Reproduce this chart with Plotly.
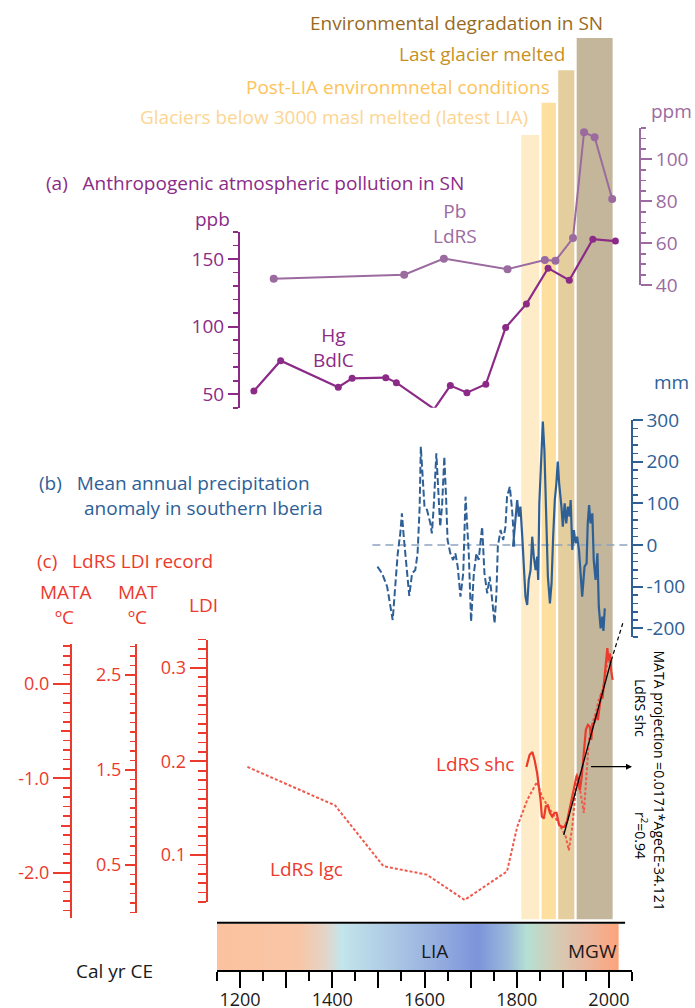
import plotly.graph_objects as go

W, H = 695, 1008
FONT = "Open Sans"

# ---------------- data ----------------
# (a) Hg in BdlC (ppb)
hg_year = [1230, 1288, 1413, 1443, 1516, 1539, 1621, 1656, 1692, 1733, 1776, 1821, 1868, 1914, 1965, 2014]
hg_ppb = [52.4, 74.8, 55.2, 61.8, 62.3, 58.6, 39.1, 56.4, 51.2, 57.4, 99.3, 116.8, 143.2, 134.3, 164.6, 163.2]

# (a) Pb in LdRS (ppm)
pb_year = [1273, 1556, 1642, 1780, 1861, 1884, 1922, 1946, 1969, 2007]
pb_ppm = [43.1, 45.0, 52.7, 47.7, 52.0, 51.7, 62.5, 112.9, 110.5, 81.1]

# (b) precipitation anomaly (mm) - older dashed part
pr_old_year = [1498, 1508, 1519, 1531, 1537, 1542, 1547.5, 1551, 1555, 1558, 1562, 1567, 1573,
               1580, 1585, 1589.5, 1592, 1597, 1600, 1605.5, 1612.7, 1616, 1620, 1625.7, 1628.5,
               1634, 1638, 1643, 1647, 1650, 1656, 1662, 1667, 1672, 1678, 1684, 1689, 1692,
               1696, 1701, 1707, 1712.6, 1717.5, 1725, 1730, 1736, 1741.5, 1752, 1756, 1759,
               1765, 1770.6, 1775.6, 1779, 1785, 1790, 1795]
pr_old_mm = [-52, -68, -100, -180, -92, -20, 28, 76, 20, -12, -68, -122, -68,
             -60, -20, 92, 236, 156, 92, 84, 52, 28, 92, 220, 164,
             44, 92, 212, 108, 12, -20, -36, -20, -52, -124, -68, 116, 60,
             -20, -184, -68, -20, -36, 44, -68, -116, -76, -188, -116, -4,
             36, 12, 44, 116, 140, 84, -4]
# (b) precipitation anomaly (mm) - recent solid part
pr_new_year = [1792, 1797, 1801, 1804.5, 1808, 1812, 1815, 1819, 1822.7, 1826, 1830, 1833.6,
               1837, 1841, 1844.4, 1846.6, 1849, 1853, 1856.6, 1860, 1864, 1867.6, 1872,
               1875.5, 1879, 1882.6, 1886, 1889, 1892, 1895, 1897, 1900, 1904, 1907.4, 1911,
               1914.6, 1917, 1920.5, 1924, 1927.6, 1931, 1935, 1938.5, 1942, 1947, 1951.5,
               1954, 1957, 1960, 1964, 1967, 1971, 1975, 1978, 1982, 1985.6, 1988, 1991]
pr_new_mm = [-4, 52, 108, 68, 92, 20, -36, -124, -144, -84, -60, 20,
             -28, -60, -28, -84, 100, 212, 296, 228, 44, -76, -140,
             -92, 20, 108, 148, 200, 148, 116, 92, 44, 100, 52, 92,
             68, 108, -12, 36, 4, 20, -12, -84, -124, -52, -44,
             52, 96, 52, 76, -36, -84, -20, -148, -200, -172, -206, -152]
zero_span = [1487, 2041]

# (c) LdRS LDI, long gravity core (dotted)
lgc_year = [1216, 1406, 1511, 1605, 1687, 1779, 1801, 1823, 1844, 1855, 1873, 1891, 1906,
            1913, 1920.5, 1927.6, 1931, 1938.5, 1945.6, 1951.5, 1956.5, 1964, 1971, 1978,
            1986, 1991, 1995, 2000, 2004]
lgc_ldi = [0.194, 0.153, 0.088, 0.079, 0.052, 0.0825, 0.130, 0.159, 0.178, 0.162, 0.148, 0.134, 0.120,
           0.105, 0.130, 0.166, 0.187, 0.166, 0.145, 0.187, 0.223, 0.241, 0.251, 0.266,
           0.276, 0.287, 0.301, 0.312, 0.301]
# (c) LdRS LDI, short core (solid)
shc_year = [1821, 1828, 1834, 1839, 1844.4, 1848.8, 1851.6, 1854.5, 1858.8, 1863, 1867.5, 1872,
            1877, 1882, 1886.4, 1889, 1892, 1898.7, 1903.7, 1909.6, 1915, 1920.5, 1925.5, 1930,
            1933.5, 1937, 1941, 1945.6, 1950, 1954.5, 1958.6, 1961.7, 1964.5, 1969, 1973, 1976,
            1980.5, 1983.5, 1986, 1989, 1992.8, 1996.5, 1999, 2002, 2005, 2008]
shc_ldi = [0.194, 0.207, 0.210, 0.201, 0.187, 0.173, 0.159, 0.141, 0.139, 0.152, 0.153, 0.145,
           0.141, 0.145, 0.145, 0.139, 0.132, 0.130, 0.130, 0.137, 0.150, 0.162, 0.177, 0.185,
           0.180, 0.169, 0.184, 0.212, 0.234, 0.239, 0.237, 0.223, 0.239, 0.242, 0.251, 0.244,
           0.262, 0.273, 0.267, 0.283, 0.298, 0.321, 0.308, 0.315, 0.296, 0.287]
# MATA projection (regression) line, degC
reg_year = [1902, 2005]
reg_mata = [-1.60, 0.25]
reg_ext_year = [2005, 2031]
reg_ext_mata = [0.25, 0.66]

# event bands (start, end, top px, colour)
bands = [(1810, 1849, 135, "#FEEBC8"),
         (1854, 1885, 102.7, "#FDDF9F"),
         (1890, 1925, 70.3, "#E5CE9E"),
         (1930, 2008, 38, "#C3B69A")]
band_labels = ["Glaciers below 3000 masl melted (latest LIA)",
               "Post-LIA environmnetal conditions",
               "Last glacier melted",
               "Environmental degradation in SN"]

# climate period strip (year, colour)
strip_stops = [(1150, "#FCC29F"), (1330, "#F8C6A7"), (1385, "#E4D4C8"), (1420, "#C3E5EB"),
               (1520, "#AECBE5"), (1620, "#97B0E0"), (1716, "#7C94DA"), (1780, "#9BB9DA"),
               (1822, "#B4E0D3"), (1880, "#D3CDB7"), (1950, "#E9B89F"), (2021, "#FDA47B")]

x_major = [1200, 1300, 1400, 1500, 1600, 1700, 1800, 1900, 2000]
x_labels = ["1200", "", "1400", "", "1600", "", "1800", "", "2000"]
x_minor = [1150, 1250, 1350, 1450, 1550, 1650, 1750, 1850, 1950, 2050]

HG = "#8B2B87"
PB = "#9B6B9F"
BLUE = "#2E6096"
RED = "#EC3A2D"
DARK = "#1A1A1A"


def px(p):
    return p / W


def py(p):
    return 1 - p / H


fig = go.Figure()

# gradient strip
s0, s1 = strip_stops[0][0], strip_stops[-1][0]
cscale = [[(yr - s0) / (s1 - s0), c] for yr, c in strip_stops]
fig.add_trace(go.Scatter(x=[s0, s1, s1, s0, s0], y=[0, 0, 1, 1, 0], mode="lines",
                         line=dict(width=0, color="rgba(0,0,0,0)"), fill="toself",
                         fillgradient=dict(type="horizontal", colorscale=cscale),
                         xaxis="x", yaxis="y", hoverinfo="skip", showlegend=False))

# (a)
fig.add_trace(go.Scatter(x=pb_year, y=pb_ppm, yaxis="y3", mode="lines+markers",
                         line=dict(color=PB, width=2), marker=dict(size=8, color=PB),
                         cliponaxis=False, showlegend=False))
fig.add_trace(go.Scatter(x=hg_year, y=hg_ppb, yaxis="y2", mode="lines+markers",
                         line=dict(color=HG, width=2.2), marker=dict(size=7, color=HG),
                         cliponaxis=False, showlegend=False))

# (b)
fig.add_trace(go.Scatter(x=zero_span, y=[0, 0], yaxis="y4", mode="lines",
                         line=dict(color="#8DA4BE", width=1.6, dash="8px,5px"), showlegend=False))
fig.add_trace(go.Scatter(x=pr_old_year, y=pr_old_mm, yaxis="y4", mode="lines",
                         line=dict(color=BLUE, width=2, dash="7px,3px"), showlegend=False))
fig.add_trace(go.Scatter(x=pr_new_year, y=pr_new_mm, yaxis="y4", mode="lines",
                         line=dict(color=BLUE, width=2.2), showlegend=False))

# (c)  empty traces register the MATA / MAT axes so that they are drawn
for ya in ["y5", "y6", "y8"]:
    fig.add_trace(go.Scatter(x=[None], y=[None], yaxis=ya, mode="lines", showlegend=False,
                             hoverinfo="skip"))
fig.add_trace(go.Scatter(x=lgc_year, y=lgc_ldi, yaxis="y7", mode="lines",
                         line=dict(color="#EF5A4C", width=2, dash="3px,2px"), showlegend=False))
fig.add_trace(go.Scatter(x=shc_year, y=shc_ldi, yaxis="y7", mode="lines",
                         line=dict(color=RED, width=2.2), showlegend=False))
fig.add_trace(go.Scatter(x=reg_year, y=reg_mata, yaxis="y9", mode="lines",
                         line=dict(color="black", width=1.3), showlegend=False))
fig.add_trace(go.Scatter(x=reg_ext_year, y=reg_ext_mata, yaxis="y9", mode="lines",
                         line=dict(color="black", width=1.2, dash="4px,3px"), showlegend=False))

# shapes
shapes = []
for x0, x1, top, col in bands:
    shapes.append(dict(type="rect", xref="x", yref="paper", x0=x0, x1=x1,
                       y0=py(919.3), y1=py(top), fillcolor=col, line=dict(width=0), layer="below"))
shapes.append(dict(type="line", xref="x", yref="paper", x0=1150, x1=2035,
                   y0=py(922.7), y1=py(922.7), line=dict(color="black", width=2)))

ann = []


def add_text(text, x, y, size=19, color=DARK, xanchor="center", angle=0):
    ann.append(dict(text=text, x=px(x), y=py(y), xref="paper", yref="paper",
                    xanchor=xanchor, yanchor="middle", showarrow=False, textangle=angle,
                    font=dict(family=FONT, size=size, color=color)))


band_cols = ["#FDD592", "#FDC35A", "#C8911F", "#986A1E"]
band_text_pos = [(530, 117.3), (551.7, 87), (566.7, 54), (605, 22.7)]
for t, (bx, by), c in zip(band_labels, band_text_pos, band_cols):
    add_text(t, bx, by, color=c, xanchor="right")

NB = "\u00a0"
add_text("(a)" + NB * 3 + "Anthropogenic atmospheric pollution in SN", 466, 183.3, color=HG, xanchor="right")
add_text("ppb", 212, 219.3, color=HG)
add_text("ppm", 671, 110.7, color=PB)
add_text("Pb<br>LdRS", 455, 223, color=PB)
add_text("Hg<br>BdlC", 333, 347, color=HG)

add_text("(b)" + NB * 3 + "Mean annual precipitation", 37, 483, color=BLUE, xanchor="left")
add_text("anomaly in southern Iberia", 203, 508, color=BLUE)
add_text("mm", 671, 381.7, color=BLUE)

add_text("(c)" + NB * 3 + "LdRS LDI record", 35, 560.7, color=RED, xanchor="left")
add_text("MATA", 66, 591.7, color=RED)
add_text("ºC", 64, 617.3, color=RED)
add_text("MAT", 138, 591.7, color=RED)
add_text("ºC", 137.5, 617.3, color=RED)
add_text("LDI", 203, 605, color=RED)
add_text("LdRS shc", 475, 764, color=RED)
add_text("LdRS lgc", 306, 869.3, color=RED)

add_text("MATA projection =0.0171*AgeCE-34.121", 659.5, 780, size=14, color="black", angle=90)
add_text("LdRS shc", 641, 708, size=14, color="black", angle=90)
add_text("r<sup>2</sup>=0.94", 641, 835, size=14, color="black", angle=90)

add_text("LIA", 434.5, 950.7)
add_text("MGW", 592.3, 950.7)
add_text("Cal yr CE", 114, 971)

ann.append(dict(x=2050, y=py(766.7), xref="x", yref="paper", ax=-44, ay=0,
                axref="pixel", ayref="pixel", showarrow=True, arrowhead=2, arrowsize=1,
                arrowwidth=1.2, arrowcolor="black", text=" "))


def yax(domain_px, rng, pos_px, side, color, tickvals, ticktext, ticklen, minor_vals, minor_len,
        size=19):
    return dict(domain=[py(domain_px[0]), py(domain_px[1])], range=rng, anchor="free",
                position=px(pos_px), side=side, showline=True, linecolor=color, linewidth=2,
                ticks="outside", tickvals=tickvals, ticktext=ticktext, ticklen=ticklen,
                tickwidth=2, tickcolor=color, tickfont=dict(family=FONT, size=size, color=color),
                minor=dict(tickmode="array", tickvals=minor_vals, ticklen=minor_len, tickwidth=1.6,
                           tickcolor=color, ticks="outside"),
                showgrid=False, zeroline=False, fixedrange=True, automargin=False)


hg_minor = [40 + 10 * i for i in range(14)]
pb_minor = [40 + 5 * i for i in range(16)]
pr_minor = [-220 + 20 * i for i in range(27)]
mata_minor = [round(-2.4 + 0.1 * i, 1) for i in range(29)]
mat_minor = [round(0.1 * i, 1) for i in range(29)]
ldi_minor = [round(0.05 + 0.01 * i, 2) for i in range(29)]

fig.update_layout(
    template="none",
    width=W, height=H, margin=dict(l=0, r=0, t=0, b=0, pad=0), autosize=False,
    paper_bgcolor="white", plot_bgcolor="rgba(0,0,0,0)",
    font=dict(family=FONT, color=DARK), showlegend=False,
    shapes=shapes, annotations=ann,
    xaxis=dict(domain=[px(217), px(632)], range=[1150, 2050], anchor="y", showline=True,
               linecolor="black", linewidth=2, ticks="outside", tickvals=x_major,
               ticktext=x_labels, ticklen=16, tickwidth=2, tickcolor="black",
               tickfont=dict(family=FONT, size=18, color=DARK), ticklabelstandoff=-4,
               minor=dict(tickmode="array", tickvals=x_minor, ticklen=9, tickwidth=2,
                          tickcolor="black", ticks="outside"),
               showgrid=False, zeroline=False, fixedrange=True, automargin=False),
    yaxis=dict(domain=[py(970), py(923.5)], range=[0, 1], visible=False, fixedrange=True,
               automargin=False),
    yaxis2=yax((407.8, 231.9), [40, 170], 239, "left", HG, [50, 100, 150], ["50", "100", "150"],
               10, hg_minor, 5),
    yaxis3=yax((285.3, 127.8), [40, 115], 640, "right", PB, [40, 60, 80, 100],
               ["40", "60", "80", "100"], 11, pb_minor, 5),
    yaxis4=yax((636.7, 420), [-220, 300], 631.7, "right", BLUE, [-200, -100, 0, 100, 200, 300],
               ["-200", "-100", "0", "100", "200", "300"], 10, pr_minor, 5),
    yaxis5=yax((918, 644.4), [-2.48, 0.42], 71, "left", RED, [0, -1, -2], ["0.0", "-1.0", "-2.0"],
               17, mata_minor, 7, size=18),
    yaxis6=yax((912.5, 644), [0, 2.826], 136, "left", RED, [0.5, 1.0, 1.5, 2.0, 2.5],
               ["0.5", "", "1.5", "", "2.5"], 10, mat_minor, 5, size=18),
    yaxis7=yax((901.8, 639.6), [0.05, 0.33], 206.7, "left", RED,
               [0.05, 0.1, 0.15, 0.2, 0.25, 0.3], ["", "0.1", "", "0.2", "", "0.3"], 16,
               ldi_minor, 8, size=18),
    yaxis8=dict(overlaying="y5", anchor="free", position=px(71), side="left", range=[-2.48, 0.42],
                showline=False, ticks="outside", tickvals=[-0.5, -1.5], ticklen=10, tickwidth=2,
                tickcolor=RED, showticklabels=False, showgrid=False, zeroline=False, fixedrange=True,
                automargin=False),
    yaxis9=dict(domain=[py(918), py(600)], range=[-2.48, 0.891], visible=False, fixedrange=True,
                automargin=False),
)

# remove the default 8 px page margin so the figure fills the window exactly
fig.write_html("out.html", config={"displayModeBar": False, "staticPlot": True},
               post_script="document.body.style.margin='0px';document.body.style.padding='0px';")
